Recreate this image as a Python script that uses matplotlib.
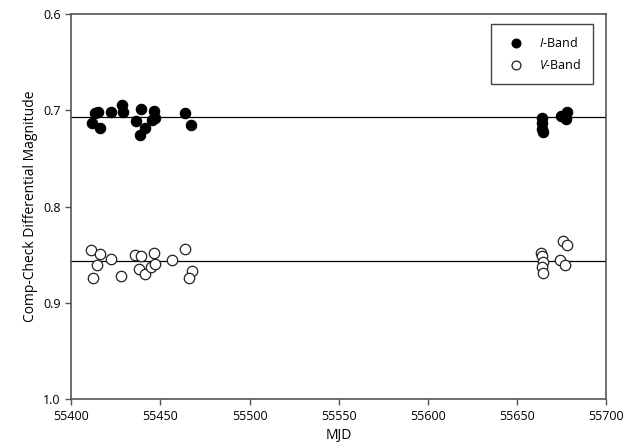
import numpy as np
import matplotlib.pyplot as plt

plt.rcParams['font.family'] = ['Open Sans', 'DejaVu Sans']
plt.rcParams['mathtext.fontset'] = 'custom'
plt.rcParams['mathtext.it'] = 'Open Sans:italic'
plt.rcParams['mathtext.rm'] = 'Open Sans'

# I-band comp-check differential magnitudes
i_mjd = [55411.6, 55413.5, 55414.8, 55416.3, 55422.3, 55428.4, 55429.3, 55439.3,
         55436.5, 55438.3, 55441.5, 55446.2, 55447.1, 55445.3, 55463.9, 55467.3,
         55664.2, 55664.0, 55664.3, 55664.5, 55674.5, 55676.1, 55678.3, 55677.5]
i_mag = [0.7129, 0.7032, 0.7021, 0.7188, 0.7021, 0.6945, 0.7021, 0.6987,
         0.7109, 0.7257, 0.7188, 0.7005, 0.7084, 0.7101, 0.7025, 0.7153,
         0.7084, 0.7136, 0.7190, 0.7225, 0.7060, 0.7060, 0.7021, 0.7095]

# V-band comp-check differential magnitudes
v_mjd = [55411.0, 55416.3, 55422.3, 55414.4, 55412.2, 55428.0, 55435.9, 55439.3,
         55446.2, 55438.1, 55441.5, 55444.7, 55447.1, 55456.5, 55463.9, 55467.7,
         55465.8, 55663.6, 55664.0, 55664.5, 55664.3, 55664.5, 55675.6, 55678.3,
         55674.3, 55677.1]
v_mag = [0.8452, 0.8494, 0.8549, 0.8608, 0.8746, 0.8722, 0.8504, 0.8511,
         0.8486, 0.8652, 0.8701, 0.8626, 0.8601, 0.8556, 0.8442, 0.8670,
         0.8740, 0.8480, 0.8514, 0.8574, 0.8625, 0.8694, 0.8358, 0.8400,
         0.8556, 0.8608]

# mean levels
i_mean = 0.707
v_mean = 0.857

fig = plt.figure(figsize=(6.36, 4.48), dpi=100)
ax = fig.add_axes([0.112, 0.109, 0.841, 0.860])

ax.axhline(i_mean, color='black', lw=0.9, zorder=1)
ax.axhline(v_mean, color='black', lw=0.9, zorder=1)

ax.plot(i_mjd, i_mag, 'o', ms=7.5, mfc='black', mec='black', mew=0.8,
        label=r'$\it{I}$-Band', zorder=3)
ax.plot(v_mjd, v_mag, 'o', ms=7.5, mfc='white', mec='#222222', mew=0.9,
        label=r'$\it{V}$-Band', zorder=3)

ax.set_xlim(55400, 55700)
ax.set_ylim(1.0, 0.6)
ax.set_xticks(np.arange(55400, 55701, 50))
ax.set_yticks([0.6, 0.7, 0.8, 0.9, 1.0])
ax.set_yticklabels(['0.6', '0.7', '0.8', '0.9', '1.0'])
ax.tick_params(direction='out', length=4, width=1, color='#555555',
               labelsize=9, top=False, right=False)
for s in ax.spines.values():
    s.set_color('#555555')
    s.set_linewidth(1.2)

ax.set_xlabel('MJD', fontsize=10)
ax.set_ylabel('Comp-Check Differential Magnitude', fontsize=10)

leg = ax.legend(loc='upper right', fontsize=9, fancybox=False, framealpha=1,
                edgecolor='#444444', borderpad=1.0, handletextpad=0.8,
                labelspacing=0.6, markerscale=0.85,
                bbox_to_anchor=(0.988, 0.99))
leg.get_frame().set_linewidth(1.0)

fig.savefig('out.png', dpi=100)
